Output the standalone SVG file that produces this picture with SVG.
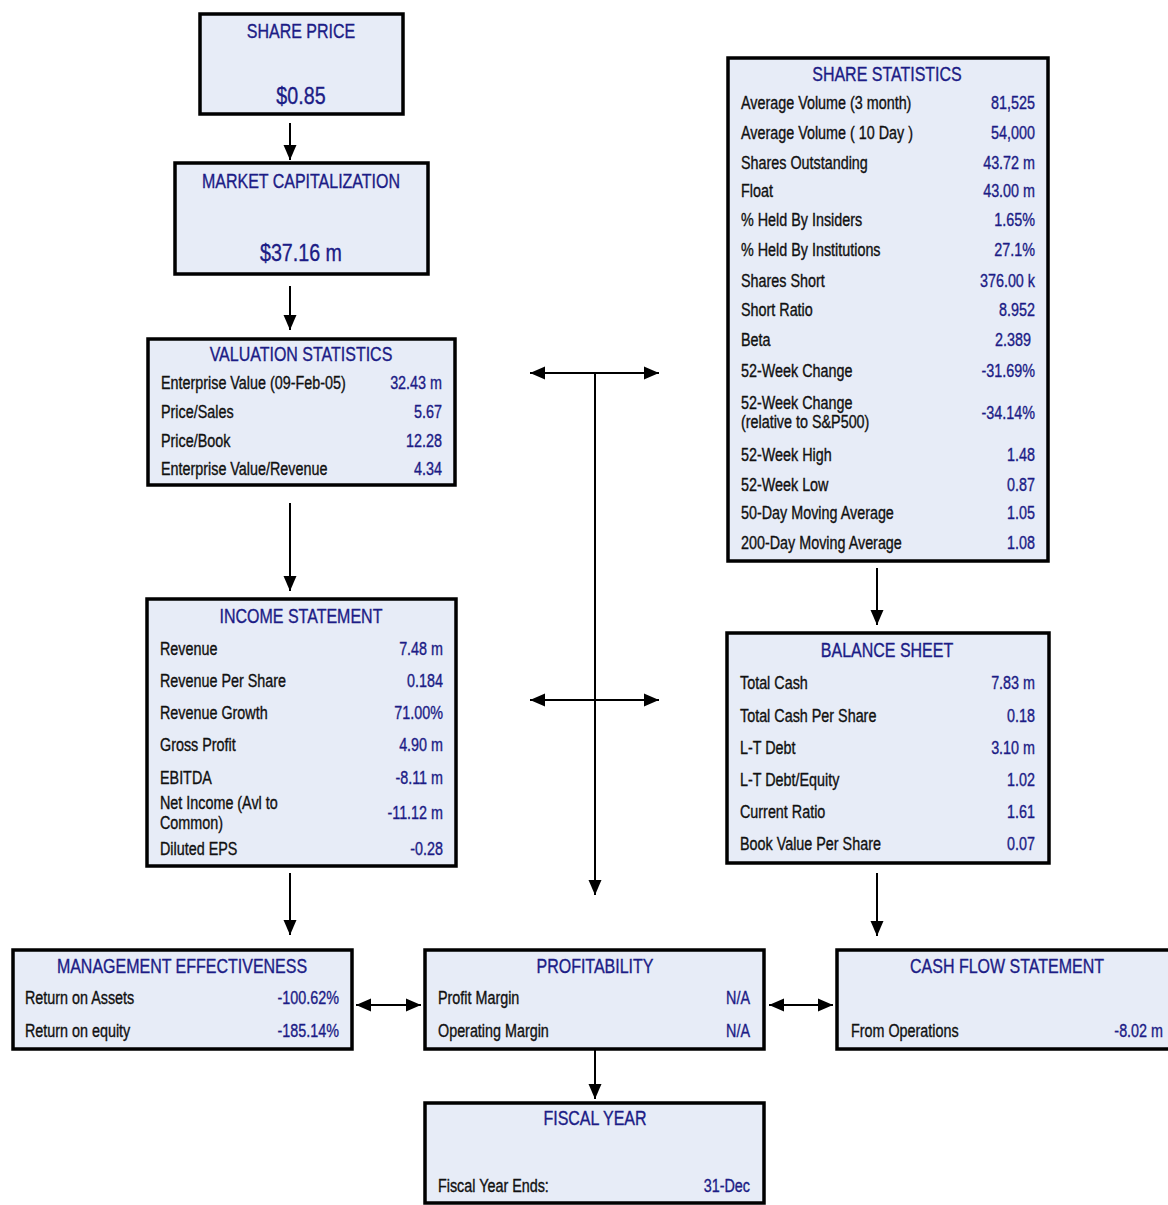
<svg xmlns="http://www.w3.org/2000/svg" width="1168" height="1205" viewBox="0 0 1168 1205">
<style>
.box{fill:#e7ecf7;stroke:#000;stroke-width:3.5}
text{font-family:"Liberation Sans",Arial,sans-serif;stroke-width:0.35px}
.t{font-size:19.5px;fill:#1c1c86;stroke:#1c1c86;text-anchor:middle}
.big{font-size:24px;fill:#1c1c86;stroke:#1c1c86;text-anchor:middle}
.l{font-size:17.5px;fill:#111;stroke:#111}
.v{font-size:17.5px;fill:#1c1c86;stroke:#1c1c86;text-anchor:end}
.c{stroke:#000;stroke-width:2;fill:none}
</style>
<defs>
<marker id="ah" markerUnits="userSpaceOnUse" markerWidth="16" markerHeight="14" refX="15" refY="7" orient="auto-start-reverse" viewBox="0 0 16 14">
<path d="M0,0.5 L15,7 L0,13.5 z" fill="#000"/>
</marker>
</defs>
<g id="connectors">
<line class="c" x1="290" y1="123" x2="290" y2="160" marker-end="url(#ah)"/>
<line class="c" x1="290" y1="286" x2="290" y2="330" marker-end="url(#ah)"/>
<line class="c" x1="290" y1="503" x2="290" y2="591" marker-end="url(#ah)"/>
<line class="c" x1="290" y1="873" x2="290" y2="935" marker-end="url(#ah)"/>
<line class="c" x1="877" y1="568" x2="877" y2="625" marker-end="url(#ah)"/>
<line class="c" x1="877" y1="873" x2="877" y2="936" marker-end="url(#ah)"/>
<line class="c" x1="530" y1="373" x2="659" y2="373" marker-start="url(#ah)" marker-end="url(#ah)"/>
<line class="c" x1="595" y1="373" x2="595" y2="895" marker-end="url(#ah)"/>
<line class="c" x1="530" y1="700" x2="659" y2="700" marker-start="url(#ah)" marker-end="url(#ah)"/>
<line class="c" x1="356" y1="1005" x2="421" y2="1005" marker-start="url(#ah)" marker-end="url(#ah)"/>
<line class="c" x1="769" y1="1005" x2="833" y2="1005" marker-start="url(#ah)" marker-end="url(#ah)"/>
<line class="c" x1="595" y1="1050" x2="595" y2="1099" marker-end="url(#ah)"/>
</g>
<g id="share-price">
<rect class="box" x="200" y="14" width="203" height="100"/>
<g transform="scale(0.82,1)">
<text class="t" x="367.07" y="38">SHARE PRICE</text>
<text class="big" x="367.07" y="104">$0.85</text>
</g>
</g>
<g id="market-cap">
<rect class="box" x="175" y="163" width="253" height="111"/>
<g transform="scale(0.82,1)">
<text class="t" x="367.07" y="188">MARKET CAPITALIZATION</text>
<text class="big" x="367.07" y="261">$37.16 m</text>
</g>
</g>
<g id="valuation">
<rect class="box" x="148" y="339" width="307" height="146"/>
<g transform="scale(0.82,1)">
<text class="t" x="367.07" y="361">VALUATION STATISTICS</text>
<text class="l" x="196.34" y="389">Enterprise Value (09-Feb-05)</text><text class="v" x="539.02" y="389">32.43 m</text>
<text class="l" x="196.34" y="418">Price/Sales</text><text class="v" x="539.02" y="418">5.67</text>
<text class="l" x="196.34" y="447">Price/Book</text><text class="v" x="539.02" y="447">12.28</text>
<text class="l" x="196.34" y="475">Enterprise Value/Revenue</text><text class="v" x="539.02" y="475">4.34</text>
</g>
</g>
<g id="share-statistics">
<rect class="box" x="728" y="58" width="320" height="503"/>
<g transform="scale(0.82,1)">
<text class="t" x="1081.71" y="81">SHARE STATISTICS</text>
<text class="l" x="903.66" y="109">Average Volume (3 month)</text><text class="v" x="1262.2" y="109">81,525</text>
<text class="l" x="903.66" y="139">Average Volume ( 10 Day )</text><text class="v" x="1262.2" y="139">54,000</text>
<text class="l" x="903.66" y="169">Shares Outstanding</text><text class="v" x="1262.2" y="169">43.72 m</text>
<text class="l" x="903.66" y="197">Float</text><text class="v" x="1262.2" y="197">43.00 m</text>
<text class="l" x="903.66" y="226">% Held By Insiders</text><text class="v" x="1262.2" y="226">1.65%</text>
<text class="l" x="903.66" y="256">% Held By Institutions</text><text class="v" x="1262.2" y="256">27.1%</text>
<text class="l" x="903.66" y="287">Shares Short</text><text class="v" x="1262.2" y="287">376.00 k</text>
<text class="l" x="903.66" y="316">Short Ratio</text><text class="v" x="1262.2" y="316">8.952</text>
<text class="l" x="903.66" y="346">Beta</text><text class="v" x="1257.32" y="346">2.389</text>
<text class="l" x="903.66" y="377">52-Week Change</text><text class="v" x="1262.2" y="377">-31.69%</text>
<text class="l" x="903.66" y="409">52-Week Change</text>
<text class="l" x="903.66" y="428">(relative to S&amp;P500)</text><text class="v" x="1262.2" y="419">-34.14%</text>
<text class="l" x="903.66" y="461">52-Week High</text><text class="v" x="1262.2" y="461">1.48</text>
<text class="l" x="903.66" y="491">52-Week Low</text><text class="v" x="1262.2" y="491">0.87</text>
<text class="l" x="903.66" y="519">50-Day Moving Average</text><text class="v" x="1262.2" y="519">1.05</text>
<text class="l" x="903.66" y="549">200-Day Moving Average</text><text class="v" x="1262.2" y="549">1.08</text>
</g>
</g>
<g id="income-statement">
<rect class="box" x="147" y="599" width="309" height="267"/>
<g transform="scale(0.82,1)">
<text class="t" x="367.07" y="623">INCOME STATEMENT</text>
<text class="l" x="195.12" y="655">Revenue</text><text class="v" x="540.24" y="655">7.48 m</text>
<text class="l" x="195.12" y="687">Revenue Per Share</text><text class="v" x="540.24" y="687">0.184</text>
<text class="l" x="195.12" y="719">Revenue Growth</text><text class="v" x="540.24" y="719">71.00%</text>
<text class="l" x="195.12" y="751">Gross Profit</text><text class="v" x="540.24" y="751">4.90 m</text>
<text class="l" x="195.12" y="784">EBITDA</text><text class="v" x="540.24" y="784">-8.11 m</text>
<text class="l" x="195.12" y="809">Net Income (Avl to</text>
<text class="l" x="195.12" y="829">Common)</text><text class="v" x="540.24" y="819">-11.12 m</text>
<text class="l" x="195.12" y="855">Diluted EPS</text><text class="v" x="540.24" y="855">-0.28</text>
</g>
</g>
<g id="balance-sheet">
<rect class="box" x="727" y="633" width="322" height="230"/>
<g transform="scale(0.82,1)">
<text class="t" x="1081.71" y="657">BALANCE SHEET</text>
<text class="l" x="902.44" y="689">Total Cash</text><text class="v" x="1262.2" y="689">7.83 m</text>
<text class="l" x="902.44" y="722">Total Cash Per Share</text><text class="v" x="1262.2" y="722">0.18</text>
<text class="l" x="902.44" y="754">L-T Debt</text><text class="v" x="1262.2" y="754">3.10 m</text>
<text class="l" x="902.44" y="786">L-T Debt/Equity</text><text class="v" x="1262.2" y="786">1.02</text>
<text class="l" x="902.44" y="818">Current Ratio</text><text class="v" x="1262.2" y="818">1.61</text>
<text class="l" x="902.44" y="850">Book Value Per Share</text><text class="v" x="1262.2" y="850">0.07</text>
</g>
</g>
<g id="management-effectiveness">
<rect class="box" x="13" y="950" width="339" height="99"/>
<g transform="scale(0.82,1)">
<text class="t" x="221.95" y="973">MANAGEMENT EFFECTIVENESS</text>
<text class="l" x="30.49" y="1004">Return on Assets</text><text class="v" x="413.41" y="1004">-100.62%</text>
<text class="l" x="30.49" y="1037">Return on equity</text><text class="v" x="413.41" y="1037">-185.14%</text>
</g>
</g>
<g id="profitability">
<rect class="box" x="425" y="950" width="339" height="99"/>
<g transform="scale(0.82,1)">
<text class="t" x="725.61" y="973">PROFITABILITY</text>
<text class="l" x="534.15" y="1004">Profit Margin</text><text class="v" x="914.63" y="1004">N/A</text>
<text class="l" x="534.15" y="1037">Operating Margin</text><text class="v" x="914.63" y="1037">N/A</text>
</g>
</g>
<g id="cash-flow-statement">
<rect class="box" x="837" y="950" width="340" height="99"/>
<g transform="scale(0.82,1)">
<text class="t" x="1228.05" y="973">CASH FLOW STATEMENT</text>
<text class="l" x="1037.8" y="1037">From Operations</text><text class="v" x="1418.29" y="1037">-8.02 m</text>
</g>
</g>
<g id="fiscal-year">
<rect class="box" x="425" y="1103" width="339" height="100"/>
<g transform="scale(0.82,1)">
<text class="t" x="725.61" y="1125">FISCAL YEAR</text>
<text class="l" x="534.15" y="1192">Fiscal Year Ends:</text><text class="v" x="914.63" y="1192">31-Dec</text>
</g>
</g>
</svg>
